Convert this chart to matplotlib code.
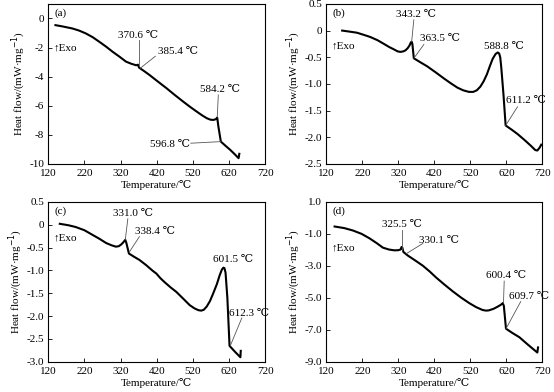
import numpy as np
import matplotlib
matplotlib.use("Agg")
import matplotlib.pyplot as plt
from matplotlib.ticker import FixedLocator

plt.rcParams['font.family'] = ['Liberation Serif', 'DejaVu Serif', 'DejaVu Sans']
plt.rcParams['font.size'] = 8
plt.rcParams['axes.unicode_minus'] = False

# Кривые ДСК (читаем с картинки)
T_a = [140, 160, 187, 205, 224, 243, 261, 280, 298, 317, 335, 350, 363, 368, 371, 385, 400, 423, 447, 470,
       493, 512, 530, 545, 558, 568, 576, 583, 587, 590, 597, 610, 623, 635, 646, 648]
H_a = [-0.46, -0.55, -0.69, -0.83, -1.03, -1.29, -1.6, -1.94, -2.29, -2.63, -2.97, -3.12, -3.22, -3.18, -3.38,
       -3.62, -3.89, -4.34, -4.8, -5.27, -5.72, -6.08, -6.4, -6.66, -6.86, -6.96, -6.98, -6.93, -6.82, -7.4,
       -8.47, -8.76, -9.04, -9.33, -9.61, -9.31]

T_b = [164, 185, 205, 224, 242, 262, 280, 295, 307, 318, 326, 334, 340, 346, 351, 355, 357, 359, 363, 380,
       400, 425, 447, 466, 484, 500, 516, 528, 538, 548, 557, 566, 574, 582, 590, 596, 600, 603, 606, 612,
       618, 635, 651, 670, 688, 700, 706, 712, 717]
H_b = [0.0, -0.02, -0.04, -0.08, -0.12, -0.18, -0.25, -0.31, -0.35, -0.39, -0.40, -0.39, -0.37, -0.33, -0.28,
       -0.22, -0.21, -0.25, -0.52, -0.59, -0.67, -0.79, -0.90, -0.99, -1.07, -1.12, -1.15, -1.15, -1.12, -1.05,
       -0.95, -0.82, -0.67, -0.53, -0.44, -0.41, -0.43, -0.50, -0.7, -1.2, -1.78, -1.86, -1.94, -2.05, -2.16,
       -2.24, -2.25, -2.20, -2.14]

T_c = [152, 175, 196, 220, 242, 262, 280, 295, 307, 315, 322, 328, 333, 336, 343, 357, 372, 390, 409, 419,
       430, 442, 458, 474, 492, 511, 524, 535, 543, 550, 558, 567, 576, 586, 594, 600, 604, 607, 610, 615,
       621, 636, 651, 652]
H_c = [0.02, -0.01, -0.05, -0.12, -0.22, -0.31, -0.40, -0.45, -0.48, -0.47, -0.43, -0.38, -0.33, -0.40, -0.63,
       -0.70, -0.77, -0.88, -1.01, -1.07, -1.17, -1.26, -1.37, -1.47, -1.61, -1.76, -1.83, -1.87, -1.88, -1.86,
       -1.79, -1.67, -1.5, -1.30, -1.10, -0.98, -0.94, -0.95, -1.05, -1.6, -2.65, -2.78, -2.90, -2.76]

T_d = [143, 170, 194, 218, 240, 260, 277, 294, 309, 320, 326, 329, 331, 334, 346, 368, 388, 407, 425, 448,
       471, 494, 517, 536, 554, 564, 572, 585, 596, 605, 610, 613, 619, 637, 656, 680, 706, 708]
H_d = [-0.54, -0.64, -0.79, -1.0, -1.28, -1.58, -1.86, -1.98, -2.03, -2.02, -1.98, -1.82, -1.85, -2.13, -2.35,
       -2.68, -2.99, -3.35, -3.73, -4.17, -4.59, -4.98, -5.33, -5.58, -5.76, -5.80, -5.78, -5.68, -5.55, -5.43,
       -5.33, -5.5, -6.93, -7.2, -7.46, -7.93, -8.42, -8.10]

# Подписи температур: текст, позиция текста, начало линии, конец линии (None - без линии)
notes_a = [("370.6 ℃", (369, -1.15), (370, -1.5), (370, -3.2)),
           ("385.4 ℃", (480, -2.3), (416, -2.6), (374, -3.43)),
           ("584.2 ℃", (595, -4.9), (590, -5.26), (587, -6.8)),
           ("596.8 ℃", (457, -8.7), (514, -8.58), (597, -8.47))]
notes_b = [("343.2 ℃", (368, 0.30), (363, 0.2), (357, -0.21)),
           ("363.5 ℃", (437, -0.15), (391, -0.26), (363, -0.52)),
           ("588.8 ℃", (613, -0.29), None, None),
           ("611.2 ℃", (674, -1.32), (651, -1.43), (618, -1.78))]
notes_c = [("331.0 ℃", (354, 0.24), (340, 0.13), (333, -0.33)),
           ("338.4 ℃", (414, -0.15), (372, -0.26), (344, -0.6)),
           ("601.5 ℃", (632, -0.75), None, None),
           ("612.3 ℃", (674, -1.95), (655, -2.04), (623, -2.65))]
notes_d = [("325.5 ℃", (331, -0.43), (331, -0.75), (331, -1.98)),
           ("330.1 ℃", (434, -1.39), (388, -1.6), (342, -2.24)),
           ("600.4 ℃", (619, -3.63), (614, -3.95), (612, -5.33)),
           ("609.7 ℃", (683, -4.9), (660, -5.23), (619, -6.93))]

x_ticks = [120, 220, 320, 420, 520, 620, 720]

panels = [
    ("(a)", T_a, H_a, notes_a, (-10, 1), [0, -2, -4, -6, -8, -10], ["0", "-2", "-4", "-6", "-8", "-10"], -2.0,
     [0.087, 0.582, 0.392, 0.408]),
    ("(b)", T_b, H_b, notes_b, (-2.5, 0.5), [0.5, 0, -0.5, -1.0, -1.5, -2.0, -2.5],
     ["0.5", "0", "-0.5", "-1.0", "-1.5", "-2.0", "-2.5"], -0.28, [0.589, 0.582, 0.390, 0.408]),
    ("(c)", T_c, H_c, notes_c, (-3.0, 0.5), [0.5, 0, -0.5, -1.0, -1.5, -2.0, -2.5, -3.0],
     ["0.5", "0", "-0.5", "-1.0", "-1.5", "-2.0", "-2.5", "-3.0"], -0.28, [0.087, 0.077, 0.392, 0.408]),
    ("(d)", T_d, H_d, notes_d, (-9, 1), [1, -1, -3, -5, -7, -9],
     ["1.0", "-1.0", "-3.0", "-5.0", "-7.0", "-9.0"], -1.9, [0.589, 0.077, 0.390, 0.408]),
]

fig = plt.figure(figsize=(5.54, 3.92), dpi=100)

for letter, T, H, notes, ylim, yt, ytl, exo_y, pos in panels:
    ax = fig.add_axes(pos)
    ax.plot(T, H, color="black", lw=1.5, solid_joinstyle="round")
    for txt, tpos, l0, l1 in notes:
        ax.text(tpos[0], tpos[1], txt, ha="center", va="center", fontsize=8)
        if l0 is not None:
            ax.plot([l0[0], l1[0]], [l0[1], l1[1]], color="#555555", lw=0.6)
    ax.set_xlim(120, 720)
    ax.set_ylim(*ylim)
    ax.xaxis.set_major_locator(FixedLocator(x_ticks))
    ax.set_yticks(yt)
    ax.set_yticklabels(ytl)
    ax.tick_params(direction="in", length=3, width=0.6, labelsize=8)
    ax.tick_params(axis="x", pad=4)
    ax.tick_params(axis="y", pad=3)
    for s in ax.spines.values():
        s.set_linewidth(0.8)
    ax.text(0.03, 0.97, letter, transform=ax.transAxes, ha="left", va="top", fontsize=8)
    ax.text(135, exo_y, "↑Exo", ha="left", va="center", fontsize=8)
    ax.set_xlabel("Temperature/℃", labelpad=1)
    ax.set_ylabel("Heat flow/(mW·mg$^{-1}$)", labelpad=1)

fig.savefig("out.png", dpi=100)
